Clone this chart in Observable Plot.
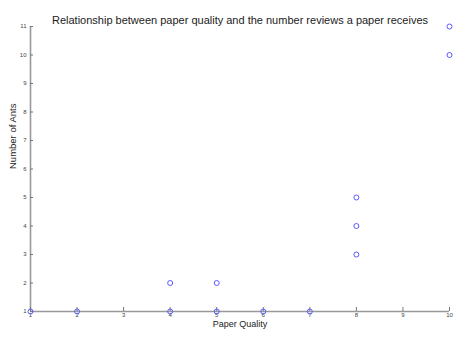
<!DOCTYPE html>
<html><head><meta charset="utf-8">
<script src="https://cdn.jsdelivr.net/npm/d3@7"></script>
<script src="https://cdn.jsdelivr.net/npm/@observablehq/plot@0.6"></script>
<style>body{margin:0;background:#fff}</style>
</head><body><div id="chart"></div>
<script>
const quality = [1, 2, 4, 4, 5, 5, 6, 7, 8, 8, 8, 10, 10];
const reviews = [1, 1, 1, 2, 1, 2, 1, 1, 3, 4, 5, 10, 11];
const xTicks = [1, 2, 3, 4, 5, 6, 7, 8, 9, 10];
const yTicks = [1, 2, 3, 4, 5, 6, 7, 8, 9, 10, 11];
const title = "Relationship between paper quality and the number reviews a paper receives";
const data = quality.map((q, i) => ({q, r: reviews[i]}));

const chart = Plot.plot({
  width: 454, height: 337,
  marginLeft: 30, marginRight: 5, marginTop: 26, marginBottom: 26,
  style: {fontFamily: "Liberation Sans, Arial, sans-serif", background: "#fff"},
  x: {domain: [1, 10]},
  y: {domain: [1, 11]},
  marks: [
    Plot.ruleX([1], {stroke: "#999", strokeWidth: 1.6}),
    Plot.ruleY([1], {stroke: "#999", strokeWidth: 1.6}),
    Plot.axisX({ticks: xTicks, tickSize: -4, tickPadding: 5, fontSize: 6, stroke: "#777", fill: "#444", label: null}),
    Plot.axisY({ticks: yTicks, tickSize: -3, tickPadding: 7, fontSize: 6, stroke: "#777", fill: "#444", label: null}),
    Plot.text([title], {frameAnchor: "top", dy: -10, fontSize: 11, fill: "#222"}),
    Plot.text(["Paper Quality"], {frameAnchor: "bottom", dy: 15, fontSize: 9, fill: "#222"}),
    Plot.text(["Number of Ants"], {frameAnchor: "left", dx: -18, rotate: -90, fontSize: 9.5, fill: "#222"}),
    Plot.dot(data, {x: "q", y: "r", r: 2.5, stroke: "#5a5aff", strokeWidth: 1, fill: "none"})
  ]
});
document.getElementById("chart").appendChild(chart);
</script></body></html>
